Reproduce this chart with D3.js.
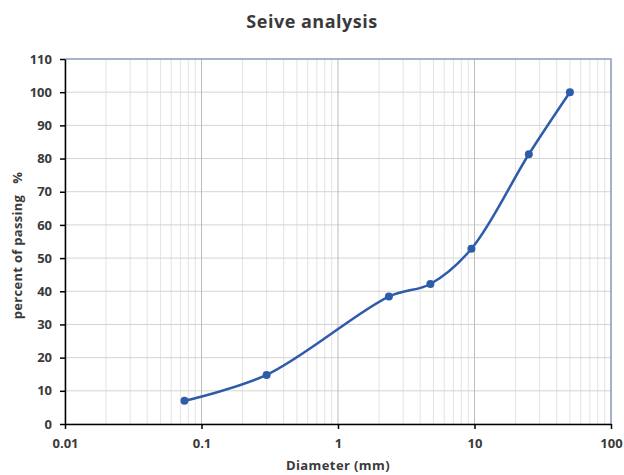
<!DOCTYPE html>
<html lang="en">
<head>
<meta charset="utf-8">
<script src="https://d3js.org/d3.v7.min.js"></script>
<style>
    body { margin: 0; background: #fff; }
    svg text { font-family: "Open Sans", "Liberation Sans", sans-serif; }
    .tick-label { font-size: 13px; font-weight: bold; fill: #3a3a3a; }
</style>
</head>
<body>
<svg id="chart" width="624" height="475"></svg>
<script>
    // sieve sizes (mm) and percent passing
    var sizes = [0.075, 0.3, 2.36, 4.75, 9.5, 25, 50];
    var passing = [7, 14.8, 38.4, 42.2, 52.8, 81.3, 100];
    var xTicks = [0.01, 0.1, 1, 10, 100];
    var yTicks = [0, 10, 20, 30, 40, 50, 60, 70, 80, 90, 100, 110];

    var data = sizes.map((s, i) => ({size: s, pass: passing[i]}));

    var svg = d3.select("#chart"),
        margin = {top: 59, right: 13, bottom: 51, left: 65},
        width = +svg.attr("width"),
        height = +svg.attr("height");

    var x = d3.scaleLog()
        .domain([0.01, 100])
        .range([margin.left, width - margin.right]);

    var y = d3.scaleLinear()
        .domain([0, 110])
        .range([height - margin.bottom, margin.top]);

    // minor log grid (2..9 in each decade)
    var minor = [];
    for (var d = 0.01; d < 100; d *= 10) {
        for (var k = 2; k <= 9; k++) minor.push(d * k);
    }

    svg.append("g")
        .selectAll("line")
        .data(minor)
        .join("line")
        .attr("x1", d => x(d)).attr("x2", d => x(d))
        .attr("y1", y(0)).attr("y2", y(110))
        .style("stroke", "#e3e3e3")
        .style("stroke-width", 1);

    svg.append("g")
        .selectAll("line")
        .data(yTicks)
        .join("line")
        .attr("x1", x(0.01)).attr("x2", x(100))
        .attr("y1", d => y(d)).attr("y2", d => y(d))
        .style("stroke", "#d4d4d4")
        .style("stroke-width", 1);

    svg.append("g")
        .selectAll("line")
        .data(xTicks)
        .join("line")
        .attr("x1", d => x(d)).attr("x2", d => x(d))
        .attr("y1", y(0)).attr("y2", y(110))
        .style("stroke", "#bdbdbd")
        .style("stroke-width", 1);

    // top and right border
    svg.append("path")
        .attr("d", "M" + x(0.01) + "," + y(110) + "H" + x(100) + "V" + y(0))
        .attr("fill", "none")
        .attr("stroke", "#8ea3c0")
        .attr("stroke-width", 1.5);

    var xAxis = svg.append("g")
        .attr("transform", "translate(0," + y(0) + ")")
        .call(d3.axisBottom(x).tickValues(xTicks).tickFormat(d => String(d)).tickSize(5).tickSizeOuter(0));
    xAxis.select(".domain").attr("stroke", "#000").attr("stroke-width", 1.5);
    xAxis.selectAll(".tick line").attr("stroke", "#000").attr("stroke-width", 1.5);
    xAxis.selectAll("text").attr("class", "tick-label").attr("dy", "1.25em");

    var yAxis = svg.append("g")
        .attr("transform", "translate(" + x(0.01) + ",0)")
        .call(d3.axisLeft(y).tickValues(yTicks).tickSize(5).tickSizeOuter(0));
    yAxis.select(".domain").attr("stroke", "#000").attr("stroke-width", 1.5);
    yAxis.selectAll(".tick line").attr("stroke", "#000").attr("stroke-width", 1.5);
    yAxis.selectAll("text").attr("class", "tick-label").attr("x", -13);

    var line = d3.line()
        .curve(d3.curveCatmullRom.alpha(0.5))
        .x(d => x(d.size))
        .y(d => y(d.pass));

    svg.append("path")
        .attr("d", line(data))
        .attr("fill", "none")
        .attr("stroke", "#2e5caa")
        .attr("stroke-width", 2.5);

    svg.append("g")
        .selectAll("circle")
        .data(data)
        .join("circle")
        .attr("cx", d => x(d.size))
        .attr("cy", d => y(d.pass))
        .attr("r", 4)
        .attr("fill", "#2e5caa");

    svg.append("text")
        .attr("x", width / 2)
        .attr("y", 28)
        .attr("text-anchor", "middle")
        .style("font-size", "18px")
        .style("font-weight", "bold")
        .style("letter-spacing", "0.5px")
        .style("fill", "#3a3a3a")
        .text("Seive analysis");

    svg.append("text")
        .attr("x", (x(0.01) + x(100)) / 2)
        .attr("y", 470)
        .attr("text-anchor", "middle")
        .style("font-size", "13px")
        .style("font-weight", "bold")
        .style("letter-spacing", "0.4px")
        .style("fill", "#3a3a3a")
        .text("Diameter (mm)");

    svg.append("text")
        .attr("transform", "translate(22," + ((y(0) + y(110)) / 2 + 4) + ") rotate(-90)")
        .attr("text-anchor", "middle")
        .style("font-size", "13px")
        .style("font-weight", "bold")
        .style("letter-spacing", "0.3px")
        .style("fill", "#3a3a3a")
        .style("white-space", "pre")
        .text("percent of passing   %");
</script>
</body>
</html>
